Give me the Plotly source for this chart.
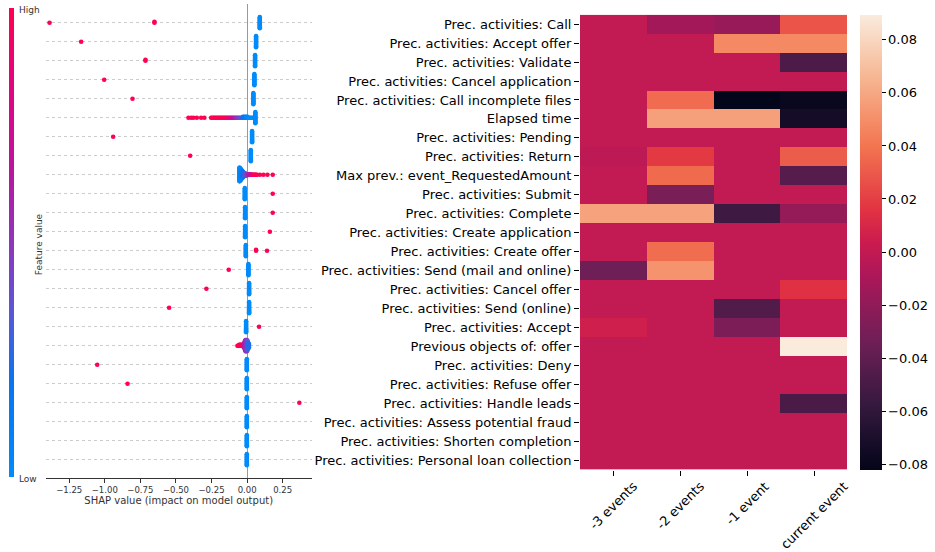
import numpy as np
import plotly.graph_objects as go

W, H = 935, 552
FONT = "DejaVu Sans"

# ---------------- heatmap data ----------------
features = [
    "Prec. activities: Call", "Prec. activities: Accept offer", "Prec. activities: Validate",
    "Prec. activities: Cancel application", "Prec. activities: Call incomplete files", "Elapsed time",
    "Prec. activities: Pending", "Prec. activities: Return", "Max prev.: event_RequestedAmount",
    "Prec. activities: Submit", "Prec. activities: Complete", "Prec. activities: Create application",
    "Prec. activities: Create offer", "Prec. activities: Send (mail and online)",
    "Prec. activities: Cancel offer", "Prec. activities: Send (online)", "Prec. activities: Accept",
    "Previous objects of: offer", "Prec. activities: Deny", "Prec. activities: Refuse offer",
    "Prec. activities: Handle leads", "Prec. activities: Assess potential fraud",
    "Prec. activities: Shorten completion", "Prec. activities: Personal loan collection",
]
windows = ["-3 events", "-2 events", "-1 event", "current event"]

val_m3 = [0, 0, 0, 0, 0, 0, 0, -0.002, 0, 0, 0.058, 0, 0, -0.034, 0, 0, 0.006, 0, 0, 0, 0, 0, 0, 0]
val_m2 = [-0.013, 0, 0, 0, 0.0365, 0.057, 0, 0.018, 0.036, -0.029, 0.058, 0, 0.037, 0.052, 0, 0, 0, 0, 0, 0, 0, 0, 0, 0]
val_m1 = [-0.017, 0.048, 0, 0, -0.0821, 0.057, 0, 0, 0, 0, -0.054, 0, 0, 0, 0, -0.046, -0.028, 0, 0, 0, 0, 0, 0, 0]
val_cur = [0.028, 0.048, -0.048, 0, -0.0787, -0.0735, 0, 0.031, -0.044, 0, -0.018, 0, 0, 0, 0.015, 0, 0, 0.0895, 0, 0, -0.049, 0, 0, 0]

cbar_ticks = [-0.08, -0.06, -0.04, -0.02, 0.0, 0.02, 0.04, 0.06, 0.08]

# ---------------- SHAP beeswarm data (rows top -> bottom) ----------------
# dense low-feature-value cluster per row
low_x = [0.089, 0.063, 0.056, 0.051, 0.044, 0.058, 0.035, 0.026, -0.053, -0.016, -0.014, -0.014,
         -0.009, 0.009, 0.014, 0.014, -0.007, 0.013, -0.002, -0.002, -0.002, -0.002, -0.002, -0.002]
low_n = [13, 13, 13, 13, 13, 13, 13, 13, 30, 13, 13, 13, 13, 13, 13, 13, 13, 5, 13, 13, 13, 13, 13, 13]

# isolated high-feature-value points
hi_row = [0, 0, 0, 1, 2, 2, 3, 4, 6, 7, 9, 10, 11, 12, 12, 12, 13, 14, 15, 16, 18, 19, 20]
hi_x = [-1.388, -0.651, -0.651, -1.166, -0.714, -0.714, -1.004, -0.805, -0.941, -0.40, 0.18, 0.18,
        0.16, 0.063, 0.063, 0.14, -0.129, -0.286, -0.548, 0.084, -1.053, -0.84, 0.367]

# row 6: long tail of high values fading into low values
row6_x = [-0.412, -0.393, -0.377, -0.353, -0.323, -0.300, -0.253, -0.245, -0.237, -0.229, -0.221,
          -0.213, -0.205, -0.197, -0.189, -0.181, -0.173, -0.165, -0.157, -0.149, -0.141, -0.133,
          -0.125, -0.117, -0.109, -0.101, -0.093, -0.085, -0.077, -0.069, -0.061, -0.053, -0.045,
          -0.037, -0.029, -0.021, -0.013, -0.005, 0.003, 0.011, 0.019, 0.027, 0.035, 0.043, 0.051]
row6_val = [1, 1, 1, 1, 1, 1, 1, 1, 1, 1, 1, 1, 1, 1, 1, 1, 1, 1, 1, 1, 0.95, 0.9, 0.85, 0.8, 0.75,
            0.7, 0.65, 0.6, 0.55, 0.5, 0.45, 0.4, 0.35, 0.3, 0.25, 0.2, 0.15, 0.1, 0.05, 0, 0, 0, 0, 0, 0]
row6_n = [1] * 34 + [2, 2, 2, 2, 2] + [1] * 6

# row 9: low values slightly negative, high values positive
row9_x = [-0.047, -0.042, -0.037, -0.032, -0.027, -0.022, -0.017, -0.012, -0.007, -0.002, 0.003,
          0.008, 0.013, 0.018, 0.023, 0.028, 0.033, 0.038, 0.043, 0.048, 0.053, 0.058, 0.063, 0.07,
          0.09, 0.115, 0.143, 0.18]
row9_val = [0.02, 0.05, 0.1, 0.15, 0.2, 0.25, 0.3, 0.35, 0.4, 0.45, 0.5, 0.55, 0.6, 0.65, 0.7, 0.75,
            0.8, 0.85, 0.9, 0.95, 1, 1, 1, 1, 1, 1, 1, 1]
row9_n = [26, 22, 18, 14, 11, 8, 6, 5, 4, 3, 3, 2, 2, 2, 2, 1, 1, 1, 1, 1, 1, 1, 1, 1, 1, 1, 1, 1]

# row 18: small negative tail
row18_x = [-0.068, -0.062, -0.056, -0.050, -0.044, -0.038, -0.032, -0.026, -0.021, -0.016, -0.011,
           -0.006, -0.001, 0.004, 0.008]
row18_val = [1, 1, 1, 1, 1, 1, 0.95, 0.85, 0.7, 0.6, 0.55, 0.5, 0.45, 0.35, 0.25]
row18_n = [1, 1, 2, 2, 2, 2, 2, 3, 6, 10, 13, 13, 13, 10, 7]

n_rows = len(low_x)

# ---------------- build beeswarm layout ----------------
def beeswarm_offsets(xs, height=0.34, nbins=100):
    xs = np.asarray(xs, float)
    lo, hi = xs.min(), xs.max()
    quant = np.round(nbins * (xs - lo) / (hi - lo + 1e-8))
    inds = np.argsort(quant, kind="stable")
    ys = np.zeros(len(xs))
    layer, last = 0, None
    for ind in inds:
        if quant[ind] != last:
            layer = 0
        ys[ind] = np.ceil(layer / 2) * ((layer % 2) * 2 - 1)
        layer += 1
        last = quant[ind]
    ys *= height / np.max(ys + 1)
    return ys

rows_pts = {r: ([], []) for r in range(n_rows)}
for r in range(n_rows):
    rows_pts[r][0].extend([low_x[r]] * low_n[r])
    rows_pts[r][1].extend([0.0] * low_n[r])
for r, xs, vs, ns in [(5, row6_x, row6_val, row6_n), (8, row9_x, row9_val, row9_n),
                      (17, row18_x, row18_val, row18_n)]:
    for x, v, n in zip(xs, vs, ns):
        rows_pts[r][0].extend([x] * n)
        rows_pts[r][1].extend([v] * n)
for r, x in zip(hi_row, hi_x):
    rows_pts[r][0].append(x)
    rows_pts[r][1].append(1.0)

px, py, pc = [], [], []
for r in range(n_rows):
    xs, vs = rows_pts[r]
    off = beeswarm_offsets(xs, height=0.40 if r == 8 else 0.34)
    pos = n_rows - 1 - r
    px.extend(xs)
    py.extend(pos + off)
    pc.extend(vs)

shap_scale = [[0.0, "#008bfb"], [0.2, "#0a74ef"], [0.35, "#5a57d6"], [0.5, "#8e36bb"],
              [0.65, "#b8169f"], [0.8, "#dc0686"], [1.0, "#ff0052"]]

rocket = [[0.0, "#03051a"], [0.143, "#35193e"], [0.286, "#701f57"], [0.429, "#ad1759"],
          [0.5, "#cb1b4f"], [0.571, "#e13342"], [0.714, "#f37651"], [0.857, "#f6b48f"],
          [1.0, "#faebdd"]]

def fx(p):
    return p / W

def fy(p):
    return 1 - p / H

fig = go.Figure()

fig.add_trace(go.Scatter(
    x=px, y=py, mode="markers", xaxis="x", yaxis="y", hoverinfo="skip", showlegend=False,
    marker=dict(size=4.6, color=pc, colorscale=shap_scale, cmin=0, cmax=1, line=dict(width=0),
                showscale=True,
                colorbar=dict(x=fx(9.3), xanchor="left", y=fy(8.3), yanchor="top",
                              len=(477.7 - 8.3) / H, lenmode="fraction", thickness=5,
                              thicknessmode="pixels", outlinewidth=0, xpad=0, ypad=0,
                              showticklabels=False, ticks="")),
))

z = [[a, b, c, d] for a, b, c, d in zip(val_m3, val_m2, val_m1, val_cur)]
fig.add_trace(go.Heatmap(
    z=z, x=windows, y=features, xaxis="x2", yaxis="y2", colorscale=rocket, hoverinfo="skip",
    colorbar=dict(x=fx(860), xanchor="left", y=fy(14.7), yanchor="top",
                  len=(469.5 - 14.7) / H, lenmode="fraction", thickness=22,
                  thicknessmode="pixels", outlinewidth=0, xpad=0, ypad=0,
                  tickvals=cbar_ticks, tickformat=".2f", ticks="outside", ticklen=4,
                  tickcolor="black", tickfont=dict(family=FONT, size=13, color="black")),
))

x0_val = lambda p: (p - 247.1) / 142.33

annotations = [
    dict(text="High", x=fx(17), y=fy(10), xref="paper", yref="paper", xanchor="left",
         yanchor="middle", showarrow=False, font=dict(family=FONT, size=9, color="#333333")),
    dict(text="Low", x=fx(17), y=fy(479), xref="paper", yref="paper", xanchor="left",
         yanchor="middle", showarrow=False, font=dict(family=FONT, size=9, color="#333333")),
    dict(text="Feature value", x=fx(39.3), y=fy(244), xref="paper", yref="paper",
         xanchor="center", yanchor="middle", textangle=-90, showarrow=False,
         font=dict(family=FONT, size=9, color="#333333")),
]
for w in windows:
    annotations.append(dict(text=w, x=w, xref="x2", y=fy(476), yref="paper", xanchor="center",
                            yanchor="top", textangle=-45, showarrow=False,
                            font=dict(family=FONT, size=13, color="black")))

fig.update_layout(
    width=W, height=H, margin=dict(l=0, r=0, t=0, b=0),
    paper_bgcolor="white", plot_bgcolor="white",
    font=dict(family=FONT, color="#333333"),
    xaxis=dict(domain=[fx(45.7), fx(311.7)], range=[x0_val(45.7), x0_val(311.7)],
               tick0=0, dtick=0.25, tickformat=".2f", showgrid=False,
               zeroline=True, zerolinecolor="#999999", zerolinewidth=1,
               showline=True, linecolor="#333333", linewidth=1, ticks="outside", ticklen=4,
               tickcolor="#333333", tickfont=dict(family=FONT, size=8.5, color="#333333"),
               title=dict(text="SHAP value (impact on model output)", standoff=3,
                          font=dict(family=FONT, size=10, color="#333333")),
               fixedrange=True),
    yaxis=dict(domain=[fy(477.7), fy(3.7)], range=[-0.947, 24], tickmode="linear", tick0=0,
               dtick=1, showticklabels=False, ticks="", showgrid=True, gridcolor="#cccccc",
               gridwidth=1, griddash="dot", zeroline=False, showline=False),
    xaxis2=dict(domain=[fx(580), fx(853.3)], anchor="y2", showticklabels=False,
                ticks="outside", ticklen=5, tickcolor="black", showgrid=False, zeroline=False,
                showline=False),
    yaxis2=dict(domain=[fy(469.5), fy(14.7)], anchor="x2", autorange="reversed",
                ticks="outside", ticklen=5, tickcolor="black", showgrid=False,
                zeroline=False, showline=False,
                tickfont=dict(family=FONT, size=13, color="black")),
    annotations=annotations,
)

fig.write_html("out.html", config={"displayModeBar": False},
               post_script="document.body.style.margin='0px';document.body.style.overflow='hidden';")
